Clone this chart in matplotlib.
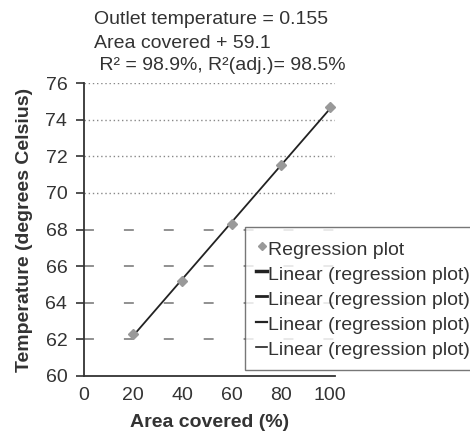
import matplotlib
matplotlib.use("Agg")
import matplotlib.pyplot as plt
from matplotlib.lines import Line2D
import numpy as np

plt.rcParams['font.family'] = ['Liberation Sans', 'DejaVu Sans']

area = [20, 40, 60, 80, 100]
temperature = [62.3, 65.2, 68.3, 71.5, 74.7]
slope = 0.155
intercept = 59.1
x_ticks = [0, 20, 40, 60, 80, 100]
y_ticks = [60, 62, 64, 66, 68, 70, 72, 74, 76]
dotted_grid = [70, 72, 74, 76]
dashed_grid = [62, 64, 66, 68]
title_lines = ["Outlet temperature = 0.155", "Area covered + 59.1", " R\u00b2 = 98.9%, R\u00b2(adj.)= 98.5%"]
legend_labels = ["Regression plot"] + ["Linear (regression plot)"] * 4

txt = '#333333'
fs = 14

fig = plt.figure(figsize=(4.7, 4.32), dpi=100)
ax = fig.add_axes([84/470, 56/432, 251/470, 293/432])
ax.set_xlim(0, 102)
ax.set_ylim(60, 76)

for g in dotted_grid:
    ax.axhline(g, color='#888888', lw=1.0, ls=(0, (1, 2)), zorder=0)
for g in dashed_grid:
    ax.axhline(g, color='#888888', lw=1.3, ls=(0, (5.5, 16.6)), zorder=0)

xs = np.array([area[0], area[-1]])
ax.plot(xs, slope*xs + intercept, color='#222222', lw=1.3, zorder=2)
ax.plot(area, temperature, ls='none', marker='D', ms=5.5, color='#999999', zorder=3)

ax.set_xticks(x_ticks)
ax.set_yticks(y_ticks)
ax.tick_params(axis='y', length=6, width=1.2, colors='#333333', labelsize=fs, labelcolor=txt, pad=6)
ax.tick_params(axis='x', length=0, labelsize=fs, labelcolor=txt, pad=8)
for s in ['top', 'right']:
    ax.spines[s].set_visible(False)
for s in ['left', 'bottom']:
    ax.spines[s].set_color('#333333')
    ax.spines[s].set_linewidth(1.3)

ax.set_xlabel("Area covered (%)", fontsize=fs, fontweight='bold', color=txt, labelpad=7)
ax.set_ylabel("Temperature (degrees Celsius)", fontsize=fs, fontweight='bold', color=txt, labelpad=9)

ys = [20, 43, 66]
for i, (t, y) in enumerate(zip(title_lines, ys)):
    fig.text(94/470, 1 - y/432, t, fontsize=fs, color=txt, va='center', ha='left')

handles = [Line2D([], [], ls='none', marker='D', ms=4.5, color='#999999')]
for lw in [2.5, 2.0, 1.6, 1.2]:
    handles.append(Line2D([], [], color='#222222', lw=lw))
leg = fig.legend(handles, legend_labels, loc='upper left',
                 bbox_to_anchor=(245/470, 1 - 227/432, 240/470, 0.0), mode='expand',
                 fontsize=fs, frameon=True, fancybox=False, handlelength=0.6, handletextpad=0.05,
                 handleheight=1.3, labelspacing=0.2, borderpad=0.55, borderaxespad=0)
leg.get_frame().set_edgecolor('#555555')
leg.get_frame().set_linewidth(1.0)
for t in leg.get_texts():
    t.set_color(txt)

fig.savefig("out.png", dpi=100)
